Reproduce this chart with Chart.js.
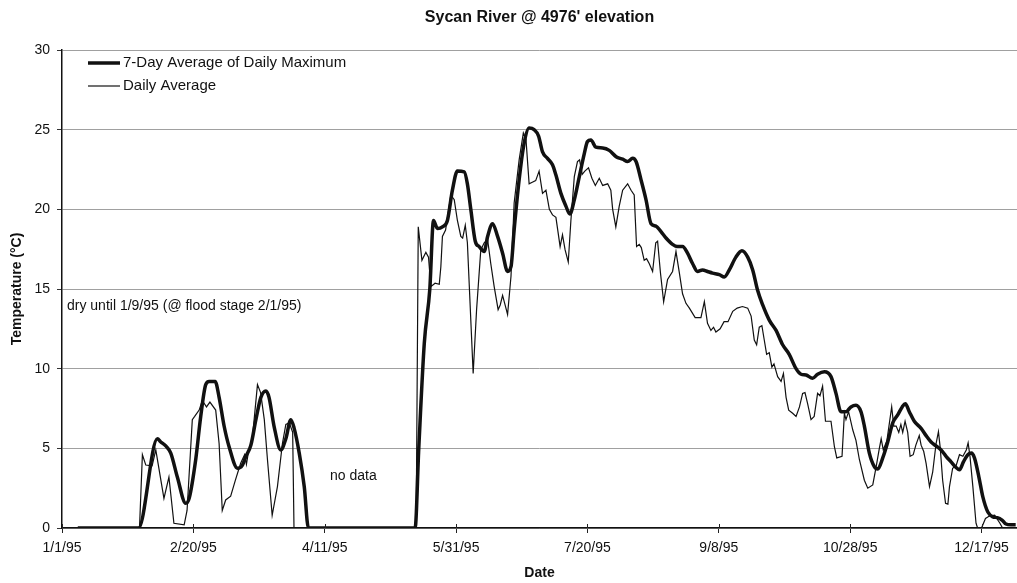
<!DOCTYPE html>
<html>
<head>
<meta charset="utf-8">
<title>Sycan River @ 4976' elevation</title>
<script src="https://cdn.jsdelivr.net/npm/chart.js@4.4.0/dist/chart.umd.min.js"></script>
<style>
    html, body { margin: 0; padding: 0; background: #fff; }
    #wrap { width: 1017px; height: 583px; }
</style>
</head>
<body>
<div id="wrap"><canvas id="tempChart" width="1017" height="583"></canvas></div>
<script>
// day of year (0 = 1/1/95) and temperature in deg C
const maxDays = [6, 29.1, 36.3, 37.6, 39.5, 41.4, 43.9, 47.1, 48.4, 50.9, 52.8, 54.7, 56, 58.3, 59.8, 61.7, 63.6, 66.8, 68.5, 70, 71.9, 73.8, 75.7, 77.6, 78.8, 80.7, 83.3, 85.2, 87.1, 88.3, 90.3, 92.2, 93.8,
    134.4, 135.8, 137.9, 140, 141.4, 142.9, 144.8, 146.7, 148.6, 150.5, 153.1, 154.3, 155.6, 157.3, 158.8, 160.7, 162, 163.9, 165.8, 167.7, 169.6, 170.9, 172.1, 174, 175.9, 177.8, 179.7, 181.4, 182.9, 184.8, 186.7, 188, 189.9, 191.8, 193.3, 195, 196.9, 198.8, 200, 201.3, 203.2, 205.8, 208.3, 210.9, 213.4, 215.3, 217.2, 218.5, 220.4, 222.3, 224.2, 226.1, 228, 229.9, 232.4, 234.3, 236.2, 238.1, 240, 241.9, 243.8, 245.7, 247.6, 250.2, 252.1, 254, 256.5, 258.8, 261, 262.9, 264.8, 266.7, 269.2, 271.8, 274.3, 276.8, 279.4, 281.3, 283.2, 285.7, 287.6, 290.2, 292.7, 294.6, 296.5, 298.4, 300.3, 302.2, 304.1, 305.4, 307.3, 309.2, 310.5, 312.4, 314.3, 316.2, 318.1, 319.8, 321, 322.5, 324.4, 327, 328.9, 330.8, 332.7, 334.6, 336.5, 338.4, 340.3, 341.6, 343.1, 344.8, 346.1, 347.3, 349, 350.5, 352.4, 354.3, 356, 357.8, 359.3, 361.2, 363];
const maxTemps = [0, 0, 5.6, 5.4, 5.15, 4.7, 3.2, 1.55, 1.86, 4.3, 7.0, 9.0, 9.2, 9.2, 8.2, 6.4, 5.1, 3.75, 3.9, 4.5, 5.2, 6.8, 8.2, 8.6, 8.2, 6.4, 4.9, 5.6, 6.8, 6.3, 4.7, 2.6, 0,
    0, 5.0, 11.6, 15, 19.3, 18.8, 18.9, 19.3, 21.2, 22.4, 22.35, 21.6, 20.0, 18.0, 17.66, 17.35, 18.3, 19.1, 18.3, 17.25, 16.1, 16.4, 18.7, 21.85, 24.15, 25.1, 25.0, 24.6, 23.6, 23.2, 22.8, 22.15, 21.0, 20.2, 19.7, 20.6, 22.05, 23.5, 24.25, 24.35, 23.9, 23.85, 23.7, 23.3, 23.15, 23.0, 23.2, 23.0, 21.85, 20.6, 19.1, 18.95, 18.6, 18.2, 17.8, 17.66, 17.66, 17.25, 16.6, 16.1, 16.2, 16.1, 16.0, 15.9, 15.75, 16.2, 17.0, 17.4, 17.0, 16.2, 14.9, 14.0, 13.05, 12.4, 11.5, 10.9, 10.0, 9.65, 9.6, 9.4, 9.65, 9.8, 9.5, 8.45, 7.3, 7.3, 7.6, 7.7, 7.3, 6.4, 4.7, 3.85, 3.7, 4.4, 5.4, 6.6, 7.1, 7.6, 7.8, 7.3, 6.7, 6.25, 5.8, 5.4, 5.15, 4.9, 4.5, 4.15, 3.8, 3.65, 4.15, 4.6, 4.7, 4.4, 3.2, 1.95, 1.0, 0.7, 0.65, 0.5, 0.25, 0.2, 0.2];

const avgDays = [6, 29.5, 30.6, 31.9, 34.3, 35.7, 38.8, 40.7, 42.6, 46.5, 47.6, 49.6, 50.5, 52.2, 53.4, 55, 56.3, 58.5, 59.8, 61, 62.3, 64.2, 66, 68, 69.5, 70.2, 71, 72.5, 74.4, 75.6, 77, 78.2, 80, 82, 83.9, 85.2, 86.5, 87.8, 88.3,
    134.8, 135.6, 137, 138.5, 139.5, 140.4, 142, 143.6, 144.2, 144.8, 146, 148, 149.3, 150.5, 151.8, 152.5, 153.5, 154.3, 156.5, 157.8, 159.4, 160.7, 162, 163.2, 164.5, 166, 166.8, 167.7, 168.5, 169.6, 170.9, 172.1, 174, 175.6, 176.6, 177.8, 179, 180.3, 181.6, 182.9, 184.2, 185.5, 186.7, 188, 189.6, 190.5, 191.5, 192.7, 193.7, 195, 196.2, 197, 198, 199, 200.4, 201.7, 203, 204.5, 205.8, 207.7, 208.9, 209.6, 210.8, 212.1, 213.4, 215.3, 216.6, 217.8, 218.7, 219.7, 220.5, 221.6, 222.5, 223.5, 224.8, 226, 226.7, 227.8, 229, 230.5, 232.4, 233.7, 235, 236.2, 237.5, 238.8, 241, 243.2, 244.5, 245.7, 247, 248, 248.9, 250.5, 252, 253.5, 255.3, 257, 259, 261, 262.3, 263.5, 264.4, 265.4, 266.4, 267.3, 268.2, 269.2, 270.2, 271, 272.4, 273.7, 274.6, 275.6, 276.6, 278.1, 279.4, 280.7, 281.9, 282.8, 283.8, 285.1, 286.3, 287.6, 288.5, 289.5, 290.6, 292.7, 294, 294.9, 296.9, 297.8, 298.4, 299.4, 301, 302.2, 303.5, 305.4, 306.7, 308.6, 309.9, 311, 311.8, 312.6, 314, 315.8, 316.6, 317.5, 318.5, 319.3, 320, 320.9, 321.9, 322.8, 324, 325, 326.3, 327, 328, 328.9, 330.2, 331.4, 332.7, 333.6, 334.3, 335.2, 336.3, 337.2, 337.8, 339, 340.3, 341.6, 342.9, 344.2, 344.9, 345.6, 346.7, 347.9, 348.5, 350, 351.5, 353, 355, 357, 358];
const avgTemps = [0, 0, 4.6, 3.95, 3.9, 4.9, 1.86, 3.2, 0.3, 0.2, 1.1, 6.8, 7.0, 7.4, 8.0, 7.6, 7.9, 7.4, 5.3, 1.1, 1.76, 2.0, 3.0, 4.06, 4.6, 4.0, 4.8, 5.7, 9.0, 8.5, 6.8, 4.3, 0.8, 2.6, 5.3, 6.5, 6.6, 6.0, 0,
    0, 18.9, 16.8, 17.3, 17.0, 15.15, 15.36, 15.3, 16.4, 18.3, 18.7, 20.9, 20.6, 19.3, 18.3, 18.2, 19.0, 17.9, 9.7, 13.7, 17.45, 17.9, 18.1, 16.6, 15.15, 13.7, 14.0, 14.6, 14.1, 13.4, 15.8, 20.4, 23.1, 24.8, 24.4, 21.6, 21.7, 21.8, 22.4, 21.0, 21.2, 20.0, 19.65, 19.5, 17.66, 18.4, 17.45, 16.7, 19.3, 22.05, 23.0, 23.1, 22.2, 22.4, 22.6, 21.95, 21.5, 21.95, 21.5, 21.6, 21.2, 20.0, 18.9, 20.2, 21.2, 21.6, 21.2, 20.9, 17.66, 17.8, 17.6, 16.8, 16.9, 16.6, 16.1, 17.9, 18.0, 16.0, 14.2, 15.6, 16.1, 17.35, 16.0, 14.7, 14.1, 13.8, 13.2, 13.2, 14.2, 12.85, 12.4, 12.6, 12.3, 12.5, 12.95, 12.95, 13.6, 13.8, 13.9, 13.8, 13.3, 11.8, 11.5, 12.6, 12.7, 11.8, 10.9, 11.0, 10.1, 10.3, 9.5, 9.2, 9.7, 8.2, 7.4, 7.2, 7.0, 7.6, 8.45, 8.5, 7.8, 6.8, 7.0, 8.45, 8.3, 8.9, 6.7, 6.7, 5.1, 4.4, 4.5, 7.2, 6.8, 7.3, 6.15, 5.5, 4.3, 3.0, 2.5, 2.7, 3.85, 4.9, 5.6, 4.9, 5.5, 7.6, 6.4, 6.4, 6.0, 6.5, 6.0, 6.7, 6.0, 4.5, 4.6, 5.2, 5.8, 5.2, 4.8, 4.06, 2.6, 3.5, 5.3, 6.05, 5.0, 3.0, 1.55, 1.5, 2.6, 3.75, 3.9, 4.6, 4.5, 4.9, 5.35, 4.5, 2.6, 0.3, 0, 0, 0.6, 0.75, 0.8, 0.3, 0];

const xTickDays = [0, 50, 100, 150, 200, 250, 300, 350];
const xTickLabels = ['1/1/95', '2/20/95', '4/11/95', '5/31/95', '7/20/95', '9/8/95', '10/28/95', '12/17/95'];
const yTicks = [0, 5, 10, 15, 20, 25, 30];

const FONT = '"Liberation Sans", Arial, Helvetica, sans-serif';

function toPoints(days, temps) {
    return days.map((d, i) => ({ x: d, y: temps[i] }));
}

// title, legend, notes and the x tick marks that cross the axis
const overlay = {
    id: 'overlay',
    afterDraw(chart) {
        const ctx = chart.ctx;
        const area = chart.chartArea;
        const xs = chart.scales.x;
        const ys = chart.scales.y;
        ctx.save();
        ctx.fillStyle = '#111';
        ctx.textBaseline = 'middle';

        ctx.font = 'bold 16px ' + FONT;
        ctx.textAlign = 'center';
        ctx.fillText("Sycan River @ 4976' elevation", (area.left + area.right) / 2, 18);

        ctx.textAlign = 'left';
        ctx.font = '15px ' + FONT;
        chart.data.datasets.forEach((ds, i) => {
            const y = 63 + i * 23;
            ctx.strokeStyle = ds.borderColor;
            ctx.lineWidth = ds.borderWidth;
            ctx.beginPath();
            ctx.moveTo(88, y);
            ctx.lineTo(120, y);
            ctx.stroke();
            ctx.fillText(ds.label, 123, y);
        });

        ctx.font = '14px ' + FONT;
        ctx.fillText('dry until 1/9/95 (@ flood stage 2/1/95)', xs.getPixelForValue(1.9), ys.getPixelForValue(13.9));
        ctx.fillText('no data', xs.getPixelForValue(102), ys.getPixelForValue(3.26));

        ctx.strokeStyle = '#222';
        ctx.lineWidth = 1;
        xTickDays.forEach(d => {
            const px = Math.round(xs.getPixelForValue(d)) + 0.5;
            ctx.beginPath();
            ctx.moveTo(px, area.bottom - 4);
            ctx.lineTo(px, area.bottom);
            ctx.stroke();
        });
        ctx.restore();
    }
};

new Chart(document.getElementById('tempChart'), {
    type: 'line',
    data: {
        datasets: [
            {
                label: '7-Day Average of Daily Maximum',
                data: toPoints(maxDays, maxTemps),
                borderColor: '#111',
                borderWidth: 3.5,
                pointRadius: 0,
                cubicInterpolationMode: 'monotone'
            },
            {
                label: 'Daily Average',
                data: toPoints(avgDays, avgTemps),
                borderColor: '#111',
                borderWidth: 1.2,
                pointRadius: 0,
                tension: 0
            }
        ]
    },
    options: {
        responsive: false,
        animation: false,
        devicePixelRatio: 1,
        layout: { padding: { top: 50, right: 0, left: 0, bottom: 0 } },
        plugins: {
            legend: { display: false },
            title: { display: false },
            tooltip: { enabled: false }
        },
        scales: {
            x: {
                type: 'linear',
                min: 0,
                max: 363.5,
                afterBuildTicks: scale => { scale.ticks = xTickDays.map(v => ({ value: v })); },
                afterFit: scale => { scale.height = 55; },
                ticks: {
                    autoSkip: false,
                    maxRotation: 0,
                    padding: 7,
                    color: '#111',
                    font: { family: FONT, size: 14 },
                    callback: value => xTickLabels[xTickDays.indexOf(value)]
                },
                grid: { drawOnChartArea: false, tickLength: 5, color: '#222' },
                border: { color: '#111', width: 1.5 },
                title: {
                    display: true,
                    text: 'Date',
                    color: '#111',
                    font: { family: FONT, size: 14, weight: 'bold' },
                    padding: { top: 0, bottom: 1 }
                }
            },
            y: {
                min: 0,
                max: 30,
                afterBuildTicks: scale => { scale.ticks = yTicks.map(v => ({ value: v })); },
                afterFit: scale => { scale.width = 62; },
                ticks: {
                    padding: 7,
                    color: '#111',
                    font: { family: FONT, size: 14 }
                },
                grid: { color: '#a0a0a0', tickColor: '#333', tickLength: 5, lineWidth: 1 },
                border: { color: '#111', width: 1.5 },
                title: {
                    display: true,
                    text: 'Temperature (°C)',
                    color: '#111',
                    font: { family: FONT, size: 14, weight: 'bold' },
                    padding: { top: 9, bottom: 0 }
                }
            }
        }
    },
    plugins: [overlay]
});
</script>
</body>
</html>
